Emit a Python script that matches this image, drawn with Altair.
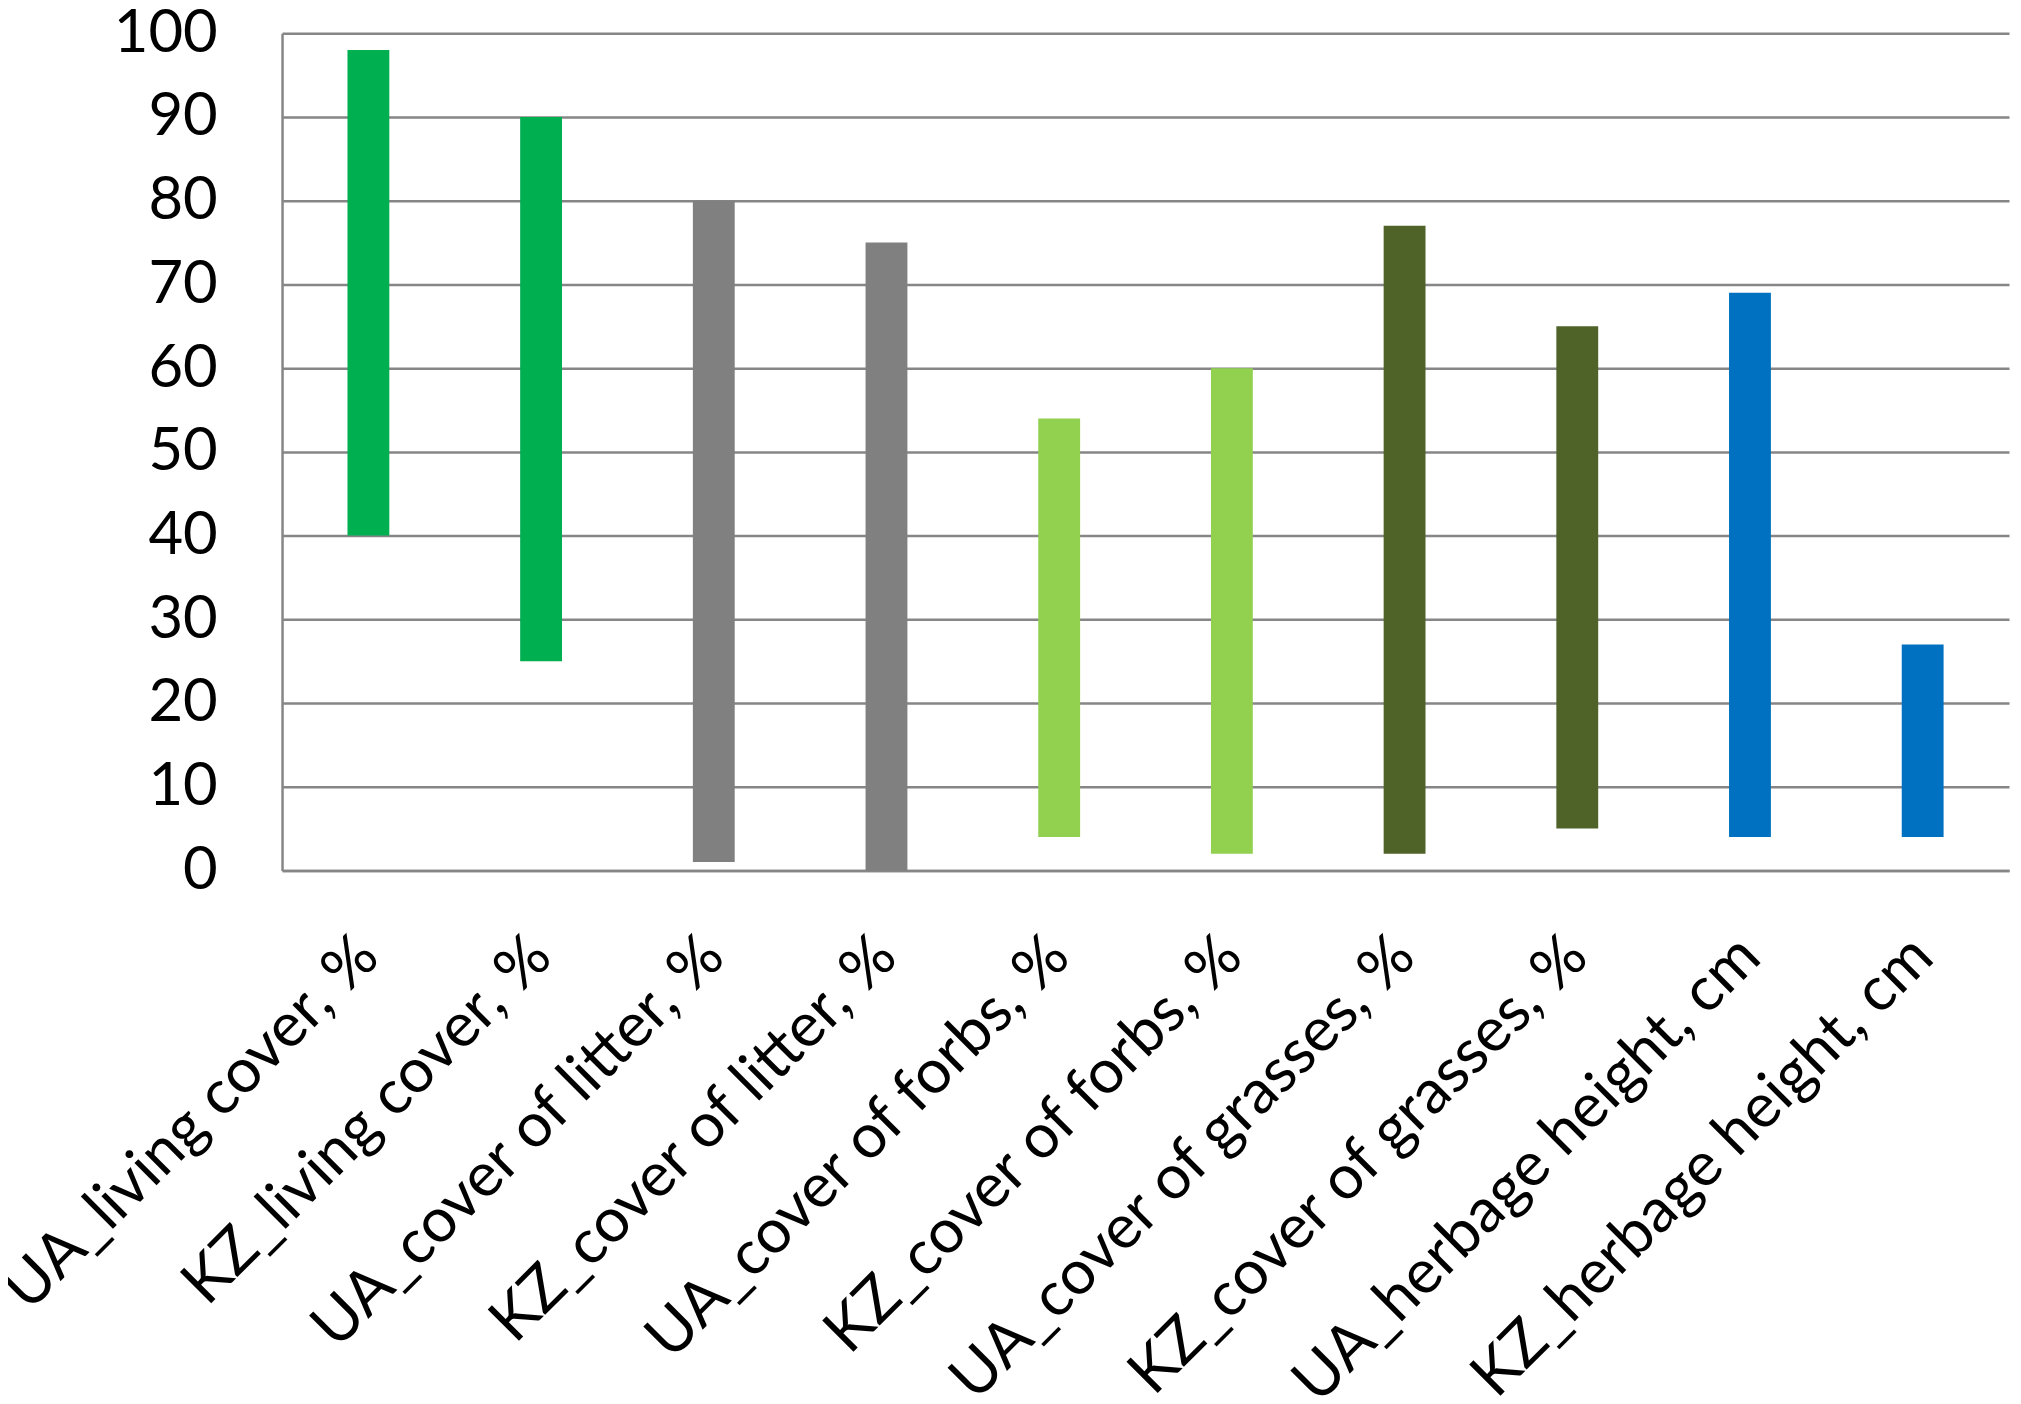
import altair as alt
import pandas as pd

categories = [
    "UA_living cover, %",
    "KZ_living cover, %",
    "UA_cover of litter, %",
    "KZ_cover of litter, %",
    "UA_cover of forbs, %",
    "KZ_cover of forbs, %",
    "UA_cover of grasses, %",
    "KZ_cover of grasses, %",
    "UA_herbage height, cm",
    "KZ_herbage height, cm",
]
low_values = [40, 25, 1, 0, 4, 2, 2, 5, 4, 4]
high_values = [98, 90, 80, 75, 54, 60, 77, 65, 69, 27]
bar_colors = [
    "#00B050", "#00B050",
    "#808080", "#808080",
    "#92D050", "#92D050",
    "#4F6228", "#4F6228",
    "#0070C0", "#0070C0",
]
y_ticks = [0, 10, 20, 30, 40, 50, 60, 70, 80, 90, 100]

df = pd.DataFrame({"category": categories, "low": low_values, "high": high_values})

FONT = "Lato"
GRID = "#868686"

chart = (
    alt.Chart(df)
    .mark_bar(size=42)
    .encode(
        x=alt.X(
            "category:N",
            sort=categories,
            scale=alt.Scale(paddingInner=0, paddingOuter=0),
            axis=alt.Axis(
                title=None,
                labelAngle=-45,
                labelAlign="right",
                labelBaseline="middle",
                labelPadding=76,
                labelFont=FONT,
                labelFontSize=62,
                labelColor="#000000",
                labelLimit=0,
                labelOverlap=False,
                ticks=False,
                tickSize=0,
                domainColor=GRID,
                domainWidth=2.5,
                grid=False,
            ),
        ),
        y=alt.Y(
            "low:Q",
            scale=alt.Scale(domain=[0, 100], nice=False),
            axis=alt.Axis(
                title=None,
                values=y_ticks,
                labelFont=FONT,
                labelFontSize=60,
                labelColor="#000000",
                labelPadding=65,
                ticks=False,
                tickSize=0,
                domainColor=GRID,
                domainWidth=2.5,
                grid=True,
                gridColor=GRID,
                gridWidth=2.5,
                gridOpacity=1,
            ),
        ),
        y2="high:Q",
        color=alt.Color(
            "category:N",
            scale=alt.Scale(domain=categories, range=bar_colors),
            legend=None,
        ),
    )
    .properties(
        width=1733,
        height=840,
        autosize=alt.AutoSizeParams(type="none"),
        padding={"left": 275, "top": 23, "right": 4, "bottom": 530},
        background="white",
    )
    .configure_view(stroke=None)
)

chart.save("out.html", embed_options={"renderer": "svg", "actions": False})
